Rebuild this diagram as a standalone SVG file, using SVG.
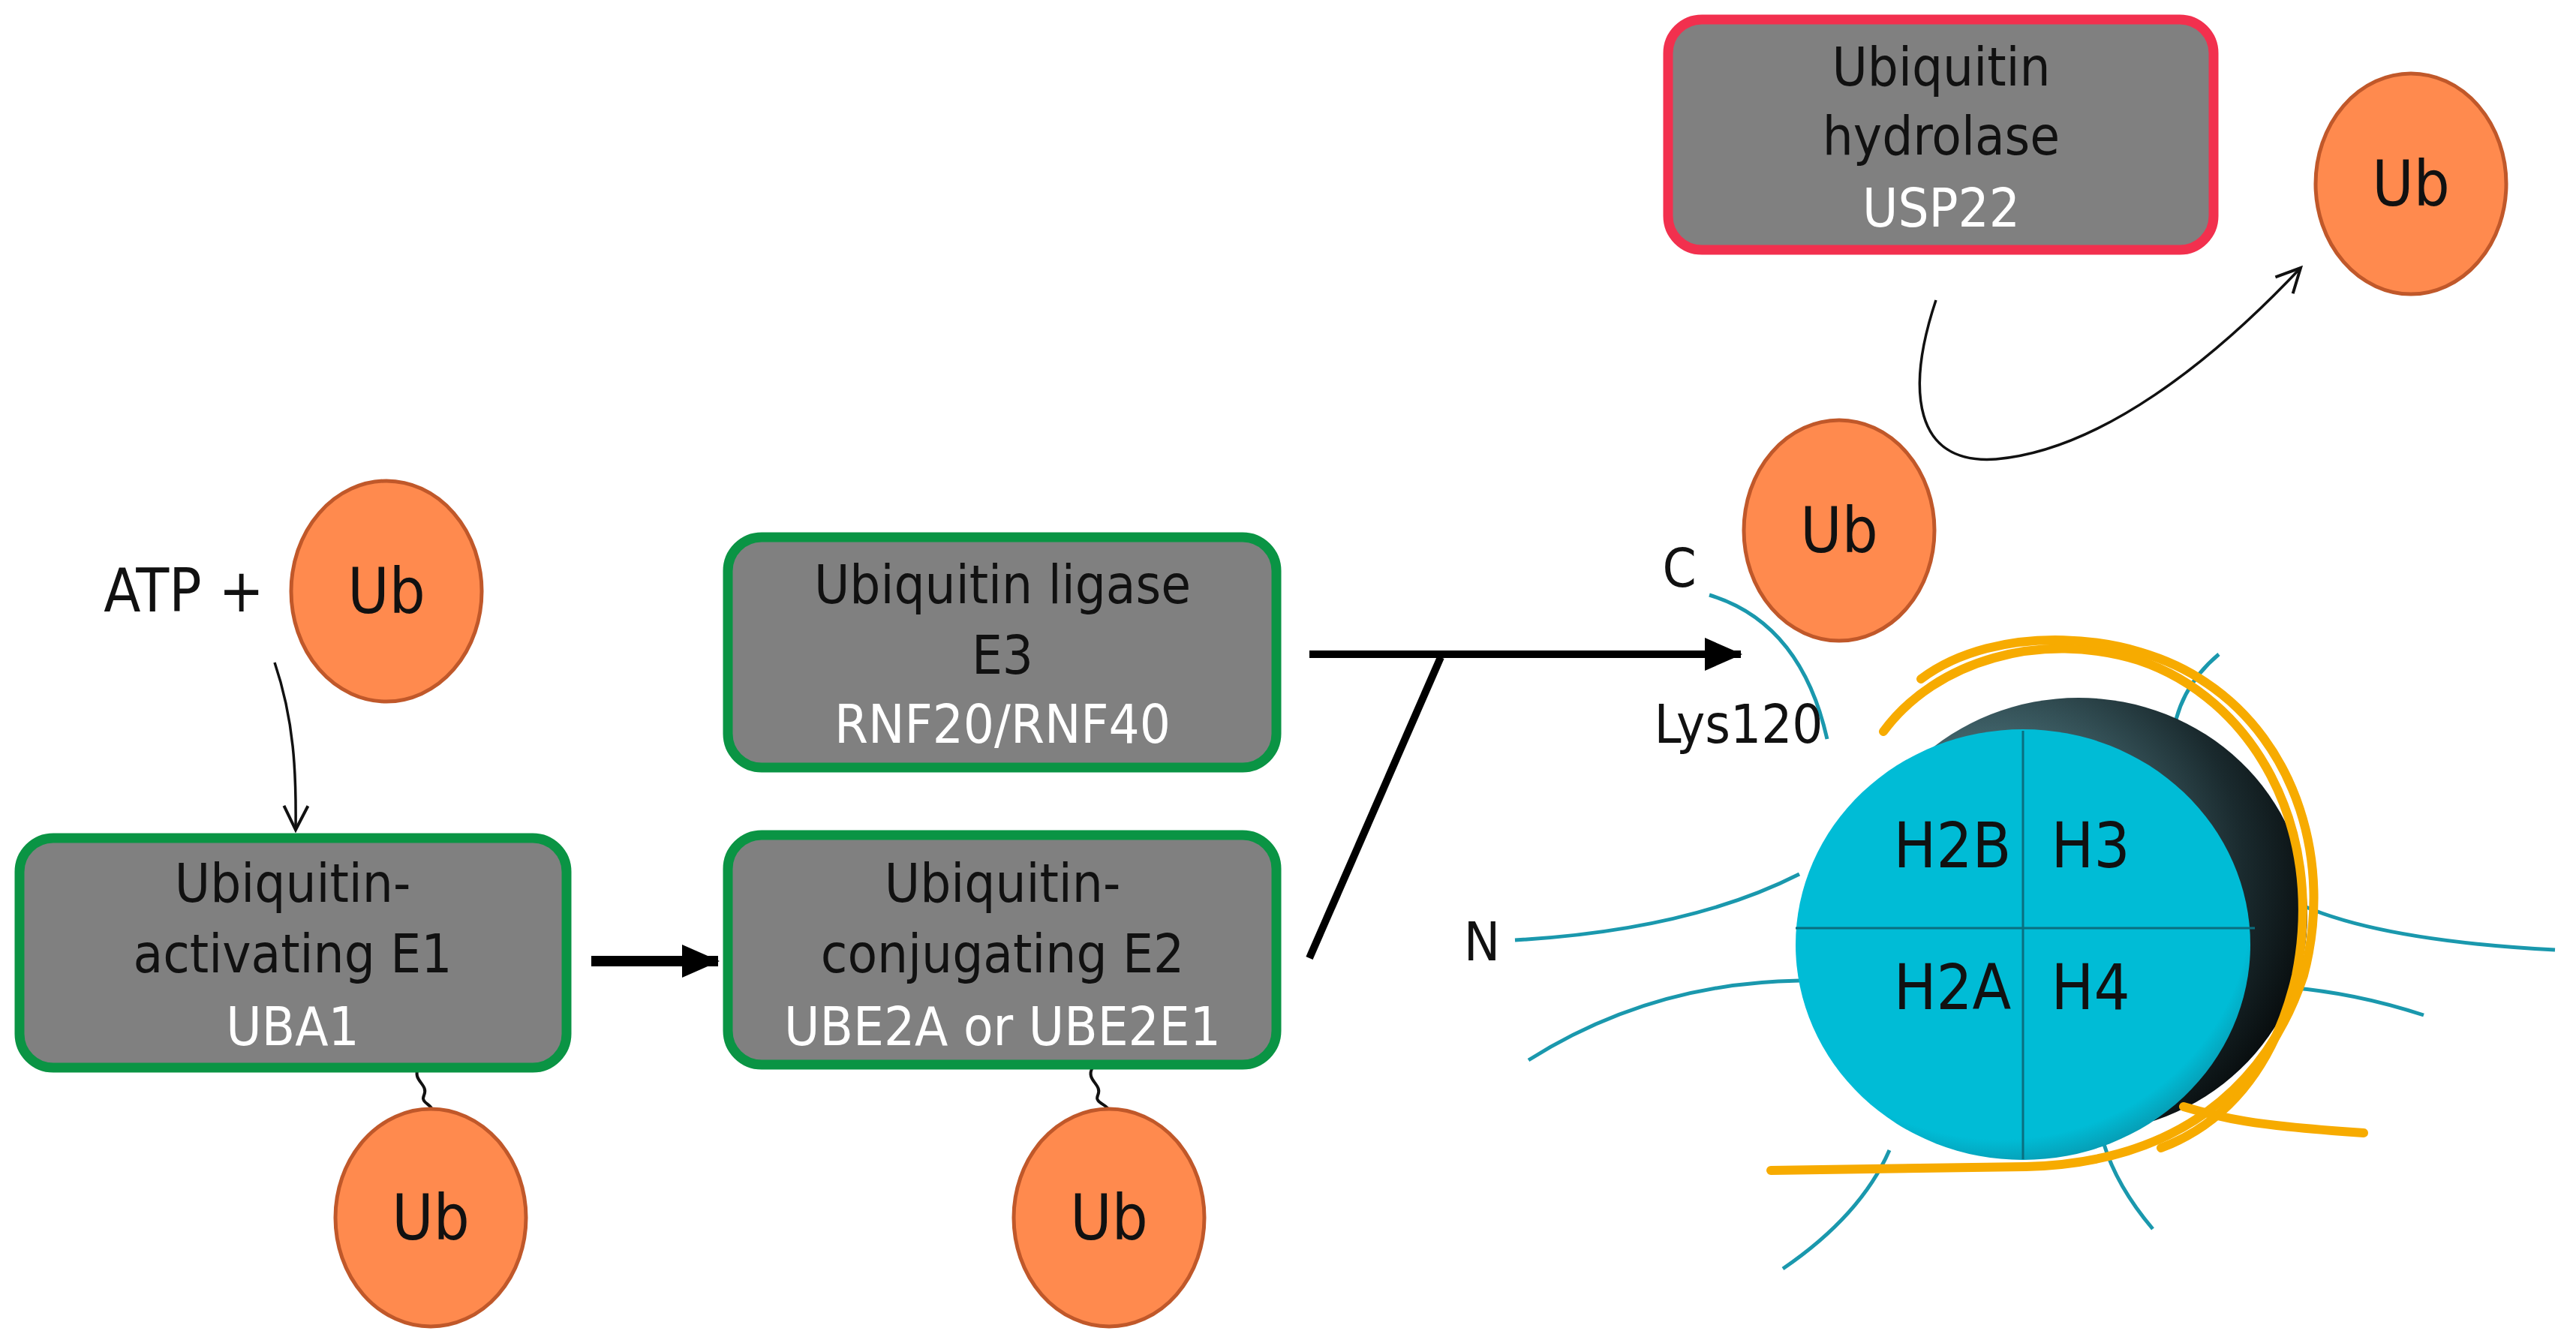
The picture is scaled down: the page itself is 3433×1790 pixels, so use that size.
<svg xmlns="http://www.w3.org/2000/svg" width="3433" height="1790" viewBox="0 0 3433 1790">
<style>
.box{fill:#808080;stroke:#0a9444;stroke-width:13}
.red{fill:#808080;stroke:#f2304e;stroke-width:13}
.ub{fill:#ff8a4e;stroke:#c0582a;stroke-width:5}
.t{font-family:"DejaVu Sans Condensed","DejaVu Sans",sans-serif;font-size:72px;text-anchor:middle;fill:#111}
.w{fill:#fff}
.ubt{font-family:"DejaVu Sans Condensed","DejaVu Sans",sans-serif;font-size:84px;text-anchor:middle;fill:#111}
.tail{fill:none;stroke:#1a98ad;stroke-width:5}
.org{fill:none;stroke:#f7ab00;stroke-width:12;stroke-linecap:round}
</style>
<defs>
<marker id="thin" markerWidth="12" markerHeight="12" refX="10" refY="6" orient="auto" markerUnits="userSpaceOnUse" viewBox="0 0 12 12"><path d="M0,0 L10,6 L0,12" fill="none" stroke="#111" stroke-width="1.5"/></marker>
<marker id="fat" markerWidth="50" markerHeight="44" refX="48" refY="22" orient="auto" markerUnits="userSpaceOnUse"><path d="M0,0 L50,22 L0,44 Z" fill="#000"/></marker>
<marker id="thinb" markerWidth="40" markerHeight="40" refX="36" refY="20" orient="auto" markerUnits="userSpaceOnUse"><path d="M4,4 L36,20 L4,36" fill="none" stroke="#111" stroke-width="4"/></marker>
<radialGradient id="dk" cx="0.3" cy="0.4" r="0.8"><stop offset="0" stop-color="#6fa9b4"/><stop offset="0.7" stop-color="#1a2a2e"/><stop offset="1" stop-color="#000"/></radialGradient>
<radialGradient id="cy" cx="0.45" cy="0.4" r="0.65"><stop offset="0.85" stop-color="#00bcd6"/><stop offset="1" stop-color="#0a8aa0"/></radialGradient>
</defs>

<g id="connectors">
<path d="M366,883 C392,960 395,1030 394,1106" fill="none" stroke="#111" stroke-width="3.5" marker-end="url(#thinb)"/>
<line x1="788" y1="1281" x2="957" y2="1281" stroke="#000" stroke-width="14" marker-end="url(#fat)"/>
<line x1="1745" y1="872" x2="2320" y2="872" stroke="#000" stroke-width="10" marker-end="url(#fat)"/>
<line x1="1920" y1="876" x2="1745" y2="1277" stroke="#000" stroke-width="10"/>
<path d="M2580,400 C2540,520 2550,620 2660,612 C2800,600 2950,480 3066,357" fill="none" stroke="#111" stroke-width="3.5" marker-end="url(#thinb)"/>
<path d="M558,1423 C548,1440 572,1445 565,1460 C560,1470 576,1472 576,1480" fill="none" stroke="#111" stroke-width="4"/>
<path d="M1456,1423 C1446,1440 1470,1445 1463,1460 C1458,1470 1476,1472 1478,1480" fill="none" stroke="#111" stroke-width="4"/>
</g>

<g id="atp"><text class="t" x="245" y="815" style="font-size:80px">ATP +</text></g>
<g id="ub1"><ellipse class="ub" cx="515" cy="788" rx="127" ry="147"/><text class="ubt" x="515" y="817">Ub</text></g>
<g id="ub2"><ellipse class="ub" cx="574" cy="1623" rx="127" ry="145"/><text class="ubt" x="574" y="1652">Ub</text></g>
<g id="ub3"><ellipse class="ub" cx="1478" cy="1623" rx="127" ry="145"/><text class="ubt" x="1478" y="1652">Ub</text></g>
<g id="ub5"><ellipse class="ub" cx="3213" cy="245" rx="127" ry="147"/><text class="ubt" x="3213" y="274">Ub</text></g>

<g id="e1"><rect class="box" x="26" y="1117" width="729" height="306" rx="45"/>
<text class="t" x="390" y="1202">Ubiquitin-</text><text class="t" x="390" y="1296">activating E1</text><text class="t w" x="390" y="1393">UBA1</text></g>
<g id="e2"><rect class="box" x="970" y="1113" width="731" height="306" rx="45"/>
<text class="t" x="1336" y="1202">Ubiquitin-</text><text class="t" x="1336" y="1296">conjugating E2</text><text class="t w" x="1336" y="1393">UBE2A or UBE2E1</text></g>
<g id="e3"><rect class="box" x="970" y="716" width="731" height="307" rx="45"/>
<text class="t" x="1336" y="804">Ubiquitin ligase</text><text class="t" x="1336" y="898">E3</text><text class="t w" x="1336" y="990">RNF20/RNF40</text></g>
<g id="hydrolase"><rect class="red" x="2223" y="26" width="727" height="307" rx="45"/>
<text class="t" x="2587" y="114">Ubiquitin</text><text class="t" x="2587" y="206">hydrolase</text><text class="t w" x="2587" y="302">USP22</text></g>

<g id="nucleosome">
<path class="tail" d="M2278,793 Q2400,830 2435,985"/>
<path class="tail" d="M2019,1253 Q2250,1240 2398,1165"/>
<path class="tail" d="M2037,1413 Q2200,1310 2398,1307"/>
<path class="tail" d="M2376,1691 Q2480,1620 2518,1533"/>
<path class="tail" d="M2869,1638 Q2820,1580 2803,1522"/>
<path class="tail" d="M3405,1266 Q3100,1250 3011,1172"/>
<path class="tail" d="M3230,1353 Q3100,1310 2968,1314"/>
<path class="tail" d="M2957,872 Q2900,920 2895,990"/>
<ellipse cx="2770" cy="1220" rx="305" ry="290" fill="url(#dk)"/>
<path class="org" d="M2510,975 C2580,880 2720,840 2850,880 C3000,930 3100,1100 3060,1300 C3030,1430 2960,1500 2880,1530"/>
<ellipse cx="2696" cy="1259" rx="303" ry="287" fill="url(#cy)"/>
<line x1="2696" y1="974" x2="2696" y2="1545" stroke="#0a6f80" stroke-width="3"/>
<line x1="2393" y1="1237" x2="3005" y2="1237" stroke="#0a6f80" stroke-width="3"/>
<path class="org" d="M2360,1560 L2700,1555 C2900,1550 3020,1450 3070,1300 C3110,1150 3060,990 2940,910 C2840,840 2660,830 2560,905"/>
<path class="org" d="M2910,1475 C2960,1490 3000,1500 3150,1510"/>
<text class="ubt" x="2602" y="1156">H2B</text><text class="ubt" x="2786" y="1156">H3</text>
<text class="ubt" x="2602" y="1345">H2A</text><text class="ubt" x="2786" y="1345">H4</text>
</g>
<g id="ub4"><ellipse class="ub" cx="2451" cy="707" rx="127" ry="147"/><text class="ubt" x="2451" y="736">Ub</text></g>
<g id="labels">
<text class="t" x="2238" y="782">C</text>
<text class="t" x="1975" y="1280">N</text>
<text class="t" x="2317" y="990">Lys120</text>
</g>
</svg>
